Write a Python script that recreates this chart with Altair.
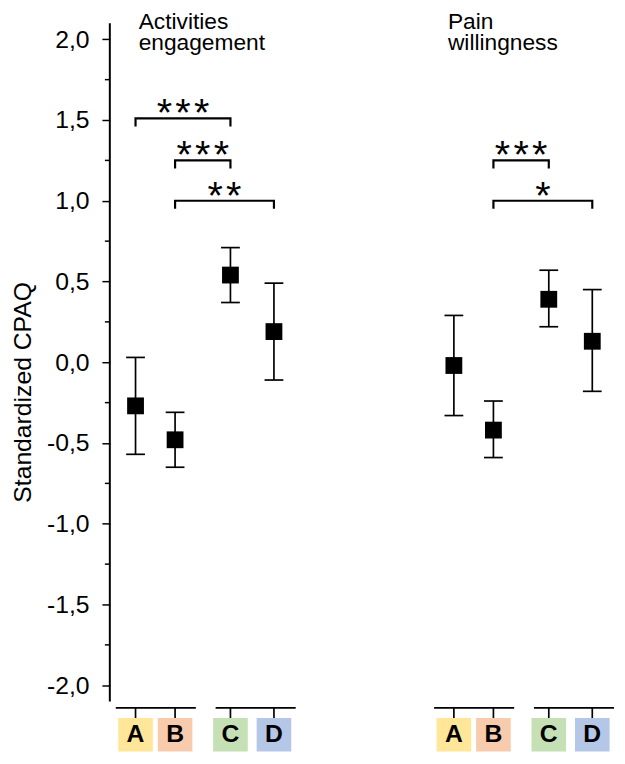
import altair as alt
import pandas as pd

# ---------------- data ----------------
categories = ["A", "B", "C", "D"]
box_colors = ["#FFE699", "#F8CBAD", "#C5E0B4", "#B4C7E7"]
panel_titles = ["Activities\nengagement", "Pain\nwillingness"]

# Activities engagement: mean and interval bounds
ae_mean = [-0.27, -0.48, 0.54, 0.19]
ae_low = [-0.57, -0.65, 0.37, -0.11]
ae_high = [0.03, -0.31, 0.71, 0.49]

# Pain willingness
pw_mean = [-0.02, -0.42, 0.39, 0.13]
pw_low = [-0.33, -0.59, 0.22, -0.18]
pw_high = [0.29, -0.24, 0.57, 0.45]

# significance brackets
br_panel = [0, 0, 0, 1, 1]
br_from = ["A", "B", "B", "B", "B"]
br_to = ["C", "C", "D", "C", "D"]
br_level = [1.51, 1.25, 1.00, 1.25, 1.00]
br_stars = [3, 3, 2, 3, 1]

y_major = [-2.0, -1.5, -1.0, -0.5, 0.0, 0.5, 1.0, 1.5, 2.0]
y_minor = [-1.75, -1.25, -0.75, -0.25, 0.25, 0.75, 1.25, 1.75]

# ---------------- layout ----------------
SLOT = {"A": 0.0, "B": 1.0, "C": 2.4, "D": 3.5}
PANEL_OFFSET = 8.05
X_DOMAIN = [-0.65, 12.175]
Y_DOMAIN = [-2.375, 2.1]
AXIS_TOP, AXIS_END = 2.1, -2.1
SEG_Y = -2.14
BOX_TOP = -2.203
BOX_BOTTOM = -2.41
LETTER_Y = -2.305
BOX_HALF = 0.4375
BR_DROP = 0.05
STAR_STEP = 0.47
TITLE_X = [0.08, 7.9]
TITLE_Y = 2.065
FONT = "Liberation Sans"


def xpos(panel, cat):
    return panel * PANEL_OFFSET + SLOT[cat]


xscale = alt.Scale(domain=X_DOMAIN, nice=False, zero=False)
yscale = alt.Scale(domain=Y_DOMAIN, nice=False, zero=False)
yaxis = alt.Axis(
    values=y_major,
    domain=False,
    grid=False,
    tickSize=8,
    tickWidth=1.5,
    tickColor="black",
    labelFontSize=25,
    labelColor="black",
    labelPadding=13,
    labelExpr="(datum.value < 0 ? '-' : '') + replace(format(abs(datum.value), '.1f'), '.', ',')",
    title="Standardized CPAQ",
    titleFontSize=25,
    titleFontWeight="normal",
    titleColor="black",
    titleX=-80,
    titleY=373,
    titleAngle=-90,
    titleAlign="center",
    titleBaseline="alphabetic",
)


def X(f):
    return alt.X(f, type="quantitative", scale=xscale, axis=None)


def Y(f):
    return alt.Y(f, type="quantitative", scale=yscale, axis=yaxis)


# points table
rows = []
for p, (m, lo, hi) in enumerate([(ae_mean, ae_low, ae_high), (pw_mean, pw_low, pw_high)]):
    for i, c in enumerate(categories):
        rows.append(dict(panel=p, cat=c, x=xpos(p, c), mean=m[i], low=lo[i], high=hi[i],
                         color=box_colors[i], x1=xpos(p, c) - BOX_HALF, x2=xpos(p, c) + BOX_HALF,
                         yb1=BOX_TOP, yb2=BOX_BOTTOM, ys=SEG_Y, yl=LETTER_Y))
pts = pd.DataFrame(rows)

whisk = alt.Chart(pts).mark_rule(color="black", strokeWidth=1.7).encode(
    x=X("x"), y=Y("low"), y2="high")
caps = alt.Chart(pts).transform_fold(["low", "high"], as_=["k", "v"]).mark_tick(
    orient="horizontal", size=19, thickness=1.7, color="black", opacity=1).encode(
    x=X("x"), y=Y("v"))
squares = alt.Chart(pts).mark_square(size=289, color="black", opacity=1, filled=True).encode(
    x=X("x"), y=Y("mean"))

# y axis line and minor ticks
axline = alt.Chart(pd.DataFrame({"a": [AXIS_TOP], "b": [AXIS_END]})).mark_rule(
    color="black", strokeWidth=2).encode(x=alt.value(0), y=Y("a"), y2="b")
minor = alt.Chart(pd.DataFrame({"v": y_minor})).mark_rule(
    color="black", strokeWidth=1.5).encode(x=alt.value(-5), x2=alt.value(0), y=Y("v"))

# brackets
brows, srows = [], []
for b in range(len(br_level)):
    xa = xpos(br_panel[b], br_from[b])
    xb = xpos(br_panel[b], br_to[b])
    lv = br_level[b]
    for o, (xx, yy) in enumerate([(xa, lv - BR_DROP), (xa, lv), (xb, lv), (xb, lv - BR_DROP)]):
        brows.append(dict(bid=b, o=o, x=xx, y=yy))
    n = br_stars[b]
    for k in range(n):
        srows.append(dict(x=(xa + xb) / 2 + (k - (n - 1) / 2) * STAR_STEP, y=lv, label="*"))
brackets = alt.Chart(pd.DataFrame(brows)).mark_line(
    color="black", strokeWidth=2.2, strokeJoin="miter", strokeCap="butt").encode(
    x=X("x"), y=Y("y"), detail="bid:N", order="o:Q")
stars = alt.Chart(pd.DataFrame(srows)).mark_text(
    fontSize=40, dy=8, baseline="alphabetic", align="center", color="black").encode(
    x=X("x"), y=Y("y"), text="label:N")

# x-axis segments (one per pair of groups)
segrows = []
for p in range(2):
    segrows.append(dict(x=xpos(p, "A") - 0.5, x2=xpos(p, "B") + 0.525, y=SEG_Y))
    segrows.append(dict(x=xpos(p, "C") - 0.375, x2=xpos(p, "D") + 0.55, y=SEG_Y))
segs = alt.Chart(pd.DataFrame(segrows)).mark_rule(color="black", strokeWidth=2).encode(
    x=X("x"), x2="x2", y=Y("y"))
segticks = alt.Chart(pts).mark_rule(color="black", strokeWidth=1.7).encode(
    x=X("x"), y=Y("ys"), y2="yb1")

boxes = alt.Chart(pts).mark_rect().encode(
    x=X("x1"), x2="x2", y=Y("yb1"), y2="yb2", color=alt.Color("color:N", scale=None))
letters = alt.Chart(pts).mark_text(
    fontSize=25, fontWeight="bold", baseline="middle", align="center", color="black").encode(
    x=X("x"), y=Y("yl"), text="cat:N")

titles = alt.Chart(pd.DataFrame({"t": panel_titles, "x": TITLE_X, "y": [TITLE_Y, TITLE_Y]})).mark_text(
    fontSize=23, align="left", baseline="alphabetic", lineBreak="\n", lineHeight=21.5, color="black").encode(
    x=X("x"), y=Y("y"), text="t:N")

chart = alt.layer(
    axline, minor, whisk, caps, squares, brackets, stars, segs, segticks, boxes, letters, titles
).properties(
    width=513, height=731,
    autosize=alt.AutoSizeParams(type="none"),
    padding={"left": 103, "top": 11, "right": 0, "bottom": 6},
).configure(font=FONT).configure_view(stroke=None)

chart.save("out.html", embed_options={"renderer": "svg", "actions": False})
